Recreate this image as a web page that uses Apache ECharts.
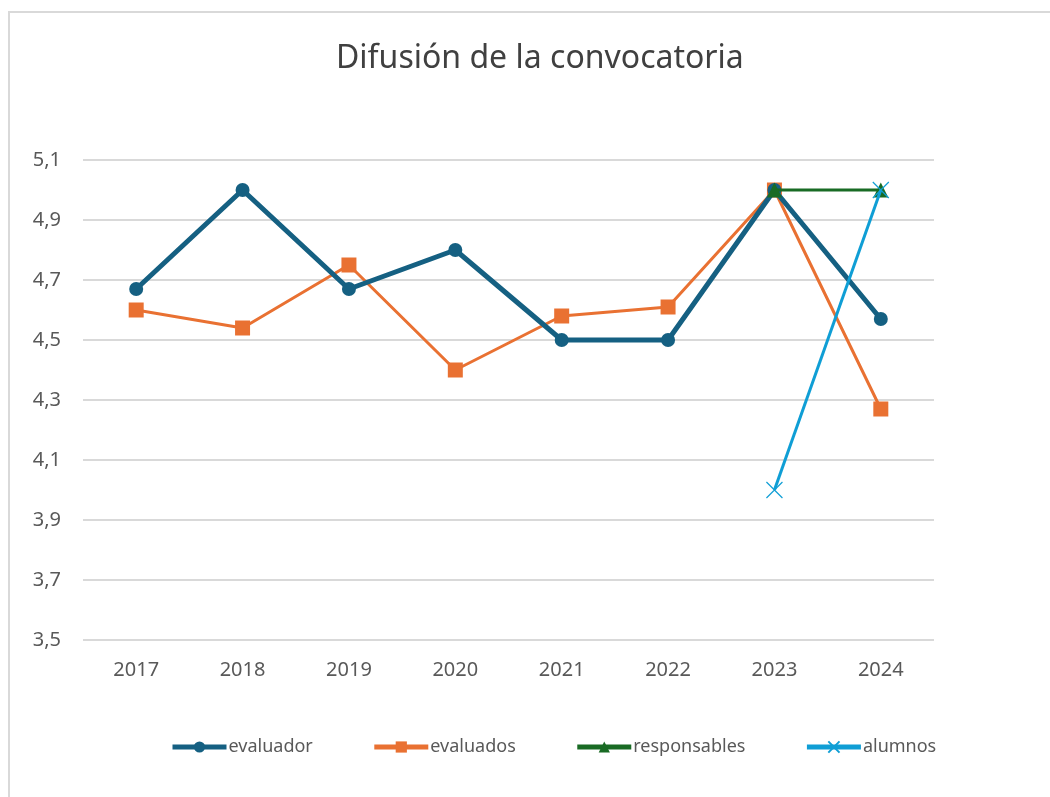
<!DOCTYPE html>
<html>
<head>
<meta charset="utf-8">
<script src="https://cdn.jsdelivr.net/npm/echarts@6/dist/echarts.min.js"></script>
<style>
  html, body { margin: 0; padding: 0; background: #fff; }
  #chart { width: 1050px; height: 797px; }
</style>
</head>
<body>
<div id="chart"></div>
<script>
// datos del gráfico
var years = ['2017', '2018', '2019', '2020', '2021', '2022', '2023', '2024']
var evaluador = [4.67, 5.0, 4.67, 4.8, 4.5, 4.5, 5.0, 4.57]
var evaluados = [4.6, 4.54, 4.75, 4.4, 4.58, 4.61, 5.0, 4.27]
var responsables = [null, null, null, null, null, null, 5.0, 5.0]
var alumnos = [null, null, null, null, null, null, 4.0, 5.0]

var fontFam = 'Noto Sans'
var textColor = '#595959'

var myChart = echarts.init(document.getElementById('chart'))
var option = {
  animation: false,
  backgroundColor: '#fff',
  graphic: [{
    type: 'rect',
    shape: { x: 9, y: 12, width: 1200, height: 1000 },
    style: { fill: 'none', stroke: '#d9d9d9', lineWidth: 2 },
    silent: true
  }],
  title: {
    text: 'Difusión de la convocatoria',
    left: 331,
    top: 38,
    textStyle: {
      fontFamily: fontFam,
      fontSize: 32,
      fontWeight: 'normal',
      color: '#404040'
    }
  },
  legend: {
    bottom: 36,
    left: 165,
    itemWidth: 54,
    itemHeight: 14,
    itemGap: 59,
    lineStyle: { width: 5 },
    textStyle: { fontFamily: fontFam, fontSize: 18, color: textColor, padding: [0, 0, 0, -3] },
    data: ['evaluador', 'evaluados', 'responsables', 'alumnos']
  },
  grid: {
    left: 83,
    right: 116,
    top: 160,
    bottom: 157
  },
  xAxis: {
    type: 'category',
    data: years,
    axisLine: { show: false },
    axisTick: { show: false },
    axisLabel: {
      margin: 20,
      fontFamily: fontFam,
      fontSize: 20,
      color: textColor
    }
  },
  yAxis: {
    type: 'value',
    min: 3.5,
    max: 5.1,
    interval: 0.2,
    axisLine: { show: false },
    axisTick: { show: false },
    splitLine: { lineStyle: { color: '#d9d9d9', width: 2 } },
    axisLabel: {
      margin: 22,
      fontFamily: fontFam,
      fontSize: 20,
      color: textColor,
      formatter: function (v) {
        return v.toFixed(1).replace('.', ',')
      }
    }
  },
  series: [{
    name: 'evaluador',
    type: 'line',
    data: evaluador,
    symbol: 'circle',
    symbolSize: 14,
    lineStyle: { width: 5, color: '#156082' },
    itemStyle: { color: '#156082' },
    z: 3
  }, {
    name: 'evaluados',
    type: 'line',
    data: evaluados,
    symbol: 'rect',
    symbolSize: 15,
    lineStyle: { width: 3, color: '#E97132' },
    itemStyle: { color: '#E97132' },
    z: 2
  }, {
    name: 'responsables',
    type: 'line',
    data: responsables,
    symbol: 'triangle',
    symbolSize: 15,
    lineStyle: { width: 3, color: '#196B24' },
    itemStyle: { color: '#196B24' },
    z: 4
  }, {
    name: 'alumnos',
    type: 'line',
    data: alumnos,
    symbol: 'path://M0,0L10,10M10,0L0,10',
    symbolSize: 16,
    lineStyle: { width: 3, color: '#0F9ED5' },
    itemStyle: { color: 'none', borderColor: '#0F9ED5', borderWidth: 1.2 },
    z: 5
  }]
}
myChart.setOption(option)
window.addEventListener('resize', function () {
  myChart.resize()
})
</script>
</body>
</html>
